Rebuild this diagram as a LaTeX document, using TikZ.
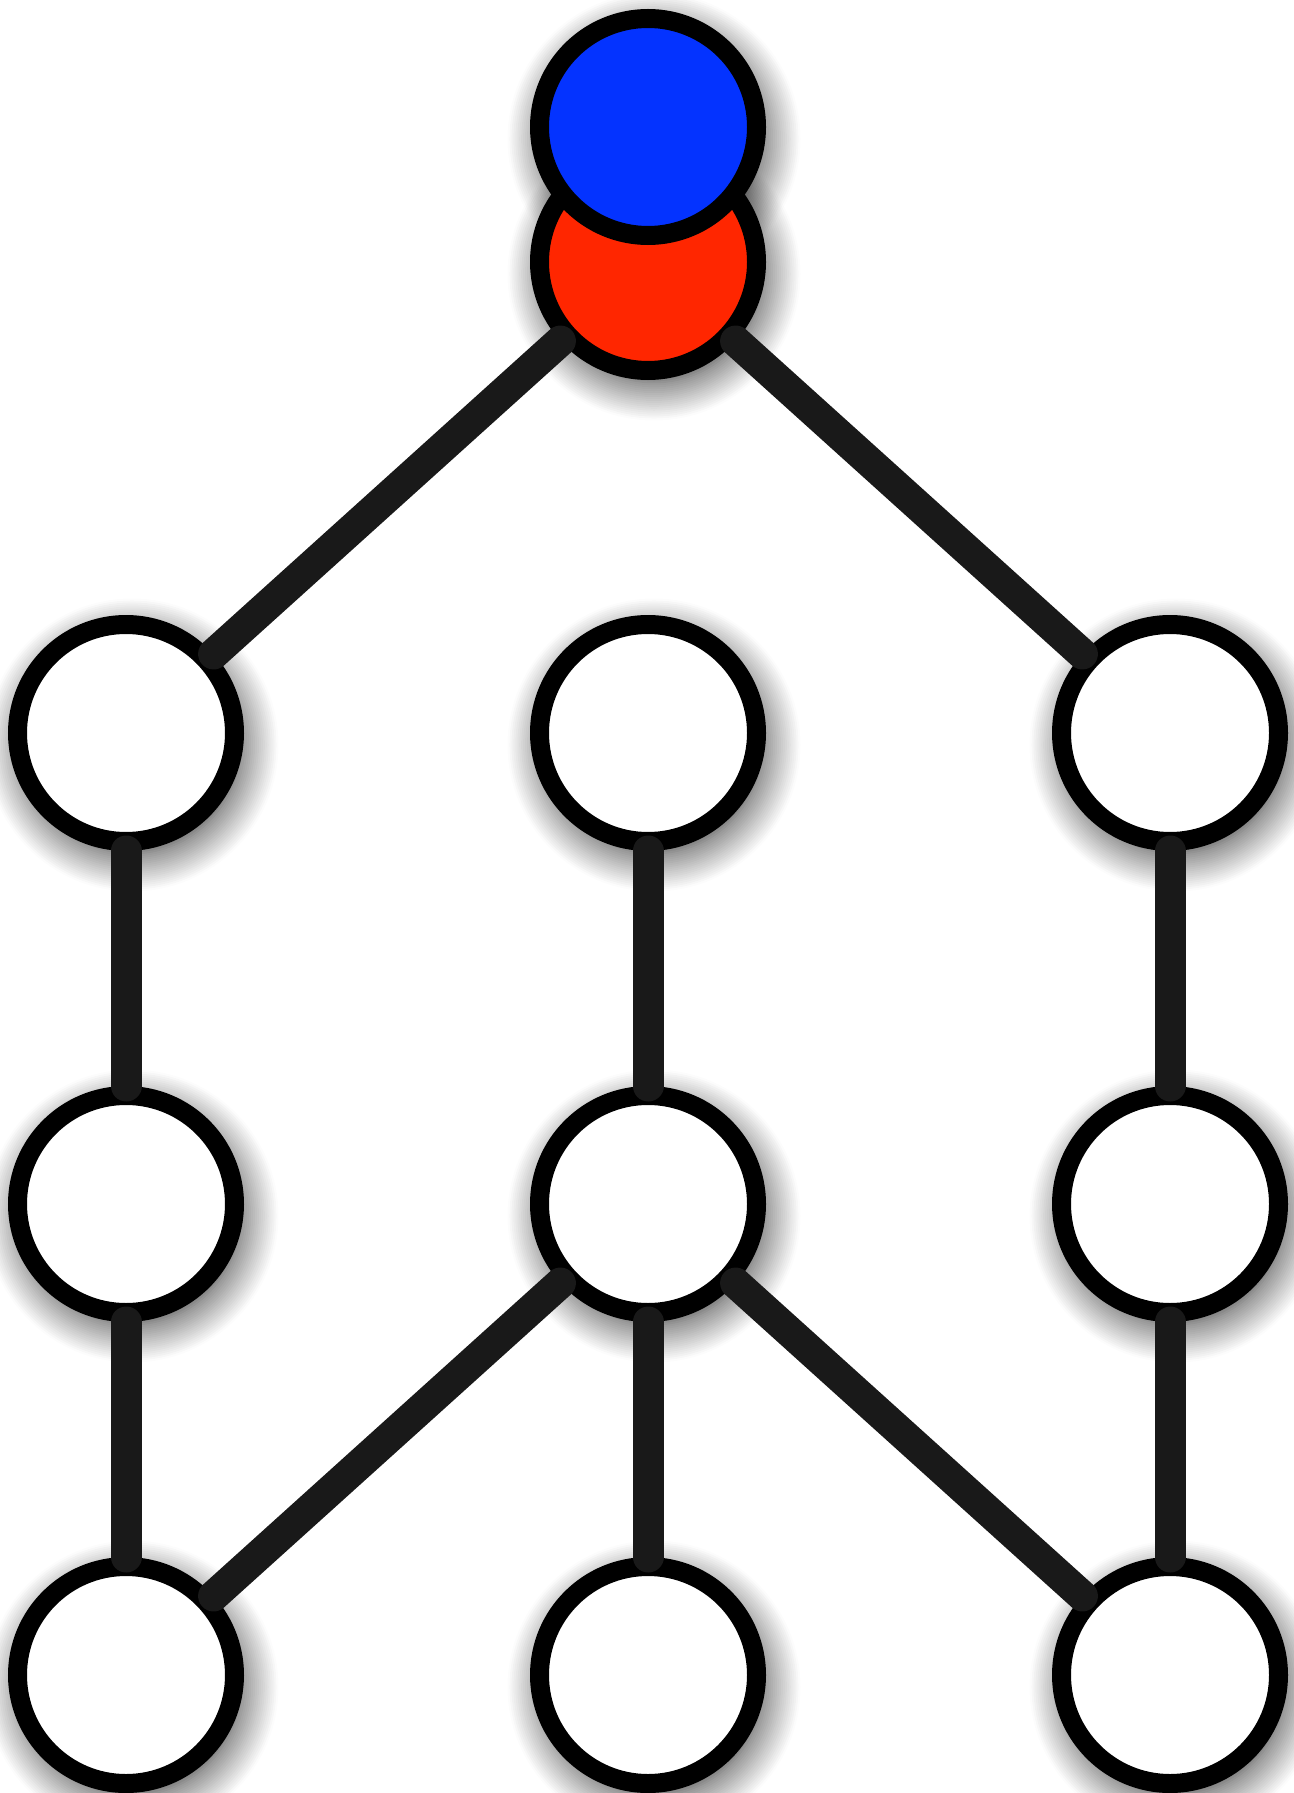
\documentclass[tikz,border=0pt]{standalone}
\usepackage{xcolor}
\usepackage{tikz}
\usetikzlibrary{shadows.blur}

\definecolor{ballblue}{HTML}{0433FF}
\definecolor{ballred}{HTML}{FF2600}
\definecolor{linkgray}{HTML}{191919}

\begin{document}
\begin{tikzpicture}[
    ballshadow/.style={blur shadow={shadow xshift=0.06cm, shadow yshift=-0.12cm,
            shadow blur radius=0.38cm, shadow blur steps=20,
            shadow opacity=85}},
    ball/.style={circle, draw=black, line width=0.19cm, fill=white,
        minimum size=2.17cm, inner sep=0pt},
    link/.style={draw=linkgray, line width=0.31cm, line cap=round}]
    \useasboundingbox (0,0) rectangle (12.93,-17.93);

    % 1. Hai nut tren cung: bong xanh nam duoi nut do
    \path[ballshadow, line width=0.19cm] (6.48,-1.27) circle (1.085);
    \node[ball, ballshadow, fill=ballred] (nr) at (6.48,-2.62) {};
    \node[ball, fill=ballblue] (nb) at (6.48,-1.27) {};

    % 2. Luoi 3 x 3 nut trang
    \foreach \c/\x in {1/1.26, 2/6.48, 3/11.70}
        \foreach \r/\y in {1/-7.33, 2/-12.04, 3/-16.75}
            \node[ball, ballshadow] (n\r\c) at (\x,\y) {};

    % 3. Cac canh noi
    \draw[link] (nr) -- (n11);
    \draw[link] (nr) -- (n13);
    \foreach \c in {1, 2, 3} \draw[link] (n1\c) -- (n2\c);
    \foreach \a/\b in {21/31, 22/31, 22/32, 22/33, 23/33} \draw[link] (n\a) -- (n\b);

\end{tikzpicture}
\end{document}
